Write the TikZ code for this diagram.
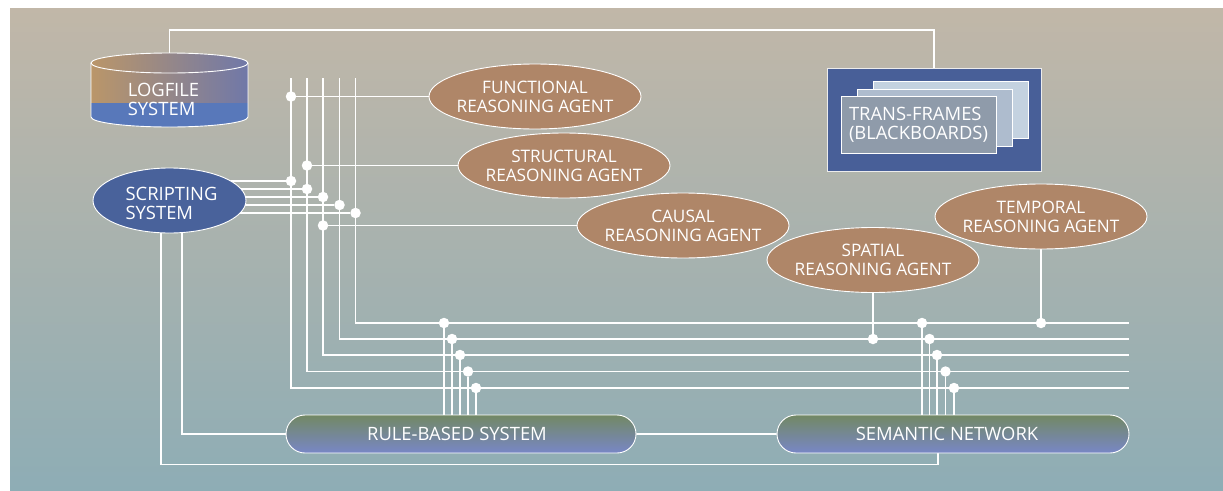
\documentclass[tikz,border=0pt]{standalone}
\usepackage{fontspec}
\setmainfont{Open Sans}
\usetikzlibrary{shapes.geometric,shapes.misc}

\definecolor{bgtop}{RGB}{193,183,168}
\definecolor{bgbot}{RGB}{142,173,181}
\definecolor{agent}{RGB}{175,134,104}
\definecolor{script}{RGB}{73,98,155}
\definecolor{frameblue}{RGB}{72,95,152}
\definecolor{pageA}{RGB}{196,210,224}
\definecolor{pageB}{RGB}{174,188,206}
\definecolor{pageC}{RGB}{143,155,170}
\definecolor{logbrown}{RGB}{186,150,105}
\definecolor{logpurple}{RGB}{112,120,168}
\definecolor{logblue}{RGB}{88,120,186}
\definecolor{sysgreen}{RGB}{114,136,100}
\definecolor{sysblue}{RGB}{120,135,198}

\pgfdeclarelayer{back}
\pgfdeclarelayer{wires}
\pgfsetlayers{back,wires,main}

\tikzset{
  lbl/.style={text=white, font=\fontsize{18.4}{19}\selectfont},
  agenttext/.style={text=white, font=\fontsize{17.2}{19}\selectfont, align=center, inner sep=0pt},
  agentnode/.style={ellipse, draw=white, line width=0.9pt, fill=agent,
    minimum width=212pt, minimum height=65pt, inner sep=0pt,
    label={[agenttext]center:#1}},
  wire/.style={draw=white, line width=1.6pt},
  junction/.style={circle, fill=white, inner sep=0pt, minimum size=10.5pt},
  sysbox/.style={rounded rectangle, draw=white, line width=0.9pt,
    top color=sysgreen, bottom color=sysblue, minimum height=38pt,
    inner sep=0pt, lbl},
  page/.style={draw=white, line width=0.8pt, inner sep=0pt,
    minimum width=155pt, minimum height=57pt},
}

\begin{document}
\begin{tikzpicture}[x=1pt, y=-1pt]
\useasboundingbox (0,0) rectangle (1223,490);

% backdrop
\begin{pgfonlayer}{back}
  \shade[top color=bgtop, bottom color=bgbot] (10,8) rectangle (1223,490);
\end{pgfonlayer}

% logfile cylinder
\begin{scope}
  \clip (91,63) -- (91,117) arc[start angle=180, end angle=0, x radius=78.5, y radius=10]
        -- (248,63) arc[start angle=0, end angle=-180, x radius=78.5, y radius=10] -- cycle;
  \shade[left color=logbrown, right color=logpurple] (91,50) rectangle (248,103);
  \fill[logblue] (91,103) rectangle (248,130);
\end{scope}
\draw[white, line width=0.9pt] (91,63) -- (91,117)
  arc[start angle=180, end angle=0, x radius=78.5, y radius=10] -- (248,63);
\draw[white, line width=0.9pt] (169.5,63) ellipse[x radius=78.5, y radius=10];
\node[lbl, align=left] (logfile) at (163.5,99) {LOGFILE\\SYSTEM};
\coordinate (logtop) at (169.5,53);

% trans-frames stack
\node[draw=white!85!gray, line width=0.9pt, fill=frameblue, inner sep=0pt,
      minimum width=214pt, minimum height=103pt] (tf) at (934,119.5) {};
\node[page, fill=pageA] (pageback) at (950.5,109.5) {};
\node[page, fill=pageB] (pagemid) at (934.5,117.5) {};
\node[page, fill=pageC, lbl, align=left] (front) at (918.5,125) {TRANS-FRAMES\\(BLACKBOARDS)};

% scripting system
\node[ellipse, draw=white, line width=0.9pt, fill=script, minimum width=153pt,
      minimum height=65pt, inner sep=0pt,
      label={[lbl, align=left, inner sep=0pt, yshift=-3pt, xshift=2pt]center:SCRIPTING\\SYSTEM}]
      (script) at (169.5,200.5) {};

% reasoning agents
\node[agentnode={FUNCTIONAL\\REASONING AGENT}] (func) at (535,96.5) {};
\node[agentnode={STRUCTURAL\\REASONING AGENT}] (struct) at (564,165.5) {};
\node[agentnode={CAUSAL\\REASONING AGENT}] (causal) at (683,225.5) {};
\node[agentnode={TEMPORAL\\REASONING AGENT}] (temporal) at (1041,216.5) {};
\node[agentnode={SPATIAL\\REASONING AGENT}] (spatial) at (873,260) {};

% knowledge stores
\node[sysbox, minimum width=350pt] (rule) at (461,434) {RULE-BASED SYSTEM\hspace*{8pt}};
\node[sysbox, minimum width=352pt] (semantic) at (953,434) {SEMANTIC NETWORK\hspace*{12pt}};

% bus line tops and ends
\coordinate (b1) at (291,78);   \coordinate (e1) at (1129,388);
\coordinate (b2) at (307,78);   \coordinate (e2) at (1129,371.5);
\coordinate (b3) at (323,78);   \coordinate (e3) at (1129,355);
\coordinate (b4) at (339.5,78); \coordinate (e4) at (1129,339);
\coordinate (b5) at (355.5,78); \coordinate (e5) at (1129,323);

% junctions
\node[junction] (jf) at (291,96.5) {};
\node[junction] (js) at (307,165.5) {};
\node[junction] (jc) at (323,225.5) {};
\node[junction] (s1) at (291,181) {};
\node[junction] (s2) at (307,189) {};
\node[junction] (s3) at (323,197) {};
\node[junction] (s4) at (339.5,205) {};
\node[junction] (s5) at (355.5,213) {};
\node[junction] (jsp) at (873,339) {};
\node[junction] (jtm) at (1041,323) {};
\node[junction] (r1) at (444,323) {};
\node[junction] (r2) at (452,339) {};
\node[junction] (r3) at (460,355) {};
\node[junction] (r4) at (468,371.5) {};
\node[junction] (r5) at (476,388) {};
\node[junction] (n1) at (922,323) {};
\node[junction] (n2) at (929.5,339) {};
\node[junction] (n3) at (937,355) {};
\node[junction] (n4) at (945.5,371.5) {};
\node[junction] (n5) at (954,388) {};

\coordinate (sa) at (182,200);
\coordinate (sb) at (161,200);
\coordinate (semx) at (938,464.5);

\begin{pgfonlayer}{wires}
  \draw[wire] (logtop) -- ++(0,-23) -| (tf.north);
  \draw[wire] (b1) |- (e1);
  \draw[wire] (b2) |- (e2);
  \draw[wire] (b3) |- (e3);
  \draw[wire] (b4) |- (e4);
  \draw[wire] (b5) |- (e5);
  \draw[wire] (jf) -- (func);
  \draw[wire] (js) -- (struct);
  \draw[wire] (jc) -- (causal);
  \foreach \s in {s1,s2,s3,s4,s5}
    \draw[wire] (script.center |- \s) -- (\s);
  \draw[wire] (spatial.south) -- (jsp);
  \draw[wire] (temporal.south) -- (jtm);
  \foreach \r in {r1,r2,r3,r4,r5}
    \draw[wire] (\r) -- (\r |- rule.north);
  \foreach \n in {n1,n2,n3,n4,n5}
    \draw[wire] (\n) -- (\n |- semantic.north);
  \draw[wire] (sa) |- (rule.west);
  \draw[wire] (rule) -- (semantic);
  \draw[wire] (sb) |- (semx) -- (semx |- semantic.south);
\end{pgfonlayer}
\end{tikzpicture}
\end{document}
